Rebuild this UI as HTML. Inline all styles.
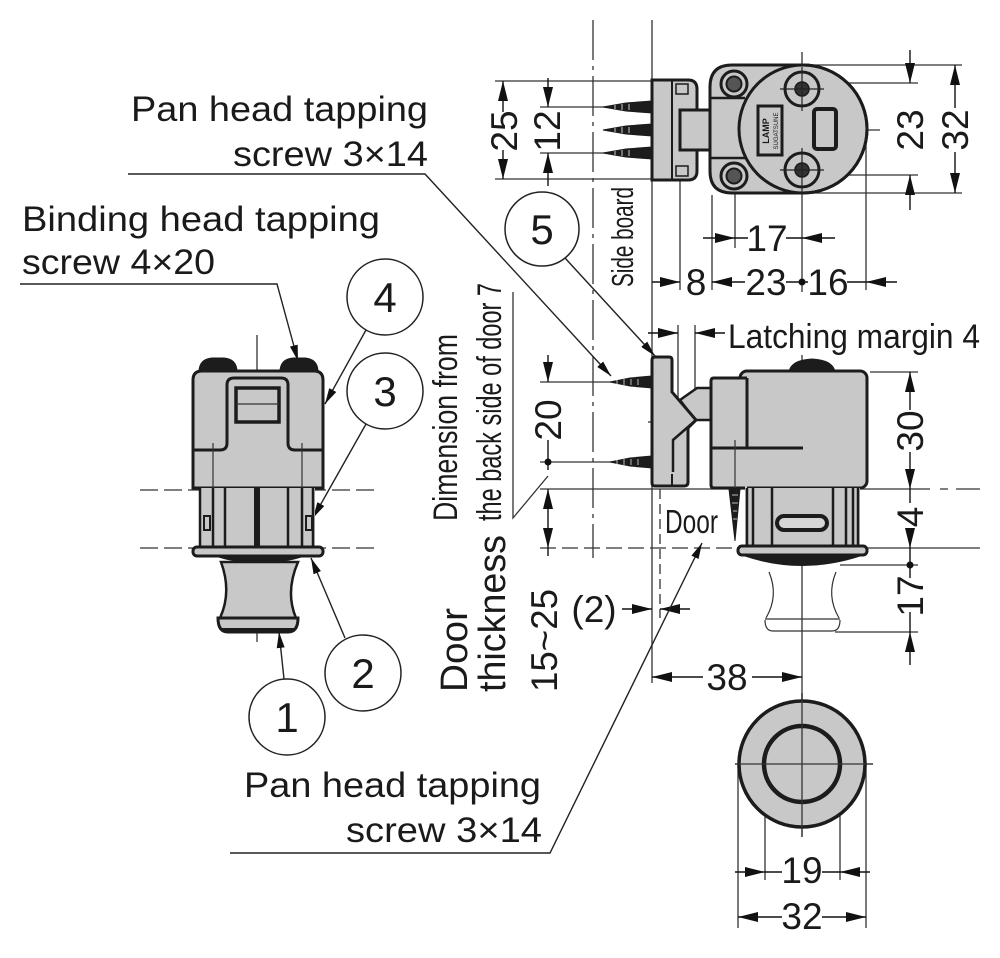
<!DOCTYPE html>
<html><head><meta charset="utf-8">
<style>
html,body{margin:0;padding:0;background:#fff;}
svg{display:block;}
text{font-family:"Liberation Sans",sans-serif;fill:#1a1a1a;}
</style></head><body>
<svg width="1000" height="958" viewBox="0 0 1000 958" xmlns="http://www.w3.org/2000/svg">
<defs>
<marker id="a" viewBox="0 0 20 10" refX="20" refY="5" markerWidth="20" markerHeight="10" orient="auto" markerUnits="userSpaceOnUse"><path d="M0,0L20,5L0,10z" fill="#111"/></marker>
<marker id="b" viewBox="0 0 16 8" refX="16" refY="4" markerWidth="16" markerHeight="8" orient="auto" markerUnits="userSpaceOnUse"><path d="M0,0L16,4L0,8z" fill="#111"/></marker>
</defs>

<!-- ============ THIN CONSTRUCTION LINES ============ -->
<g stroke="#333" stroke-width="1.3" fill="none">
  <path d="M593,20 V558" stroke-dasharray="40 6 4 6"/>
  <path d="M652,20 V683"/>
  <path d="M660,489 V618" stroke-dasharray="10 5"/>
  <path d="M495,81 H655 M495,179 H655 M540,107 H612 M540,153 H612"/>
  <path d="M680,150 V290 M712,195 V290 M866,128 V290 M802,52 V292 M735,175 V248"/>
  <path d="M742,83 H918 M742,175 H918 M812,65 H962 M812,193 H962"/>
  <path d="M698,130 H880"/>
  <path d="M678,325 V400 M695,325 V390"/>
  <path d="M540,382 H612 M540,462 H612"/>
  <path d="M540,489 H930 M940,489 H948 M956,489 H980"/>
  <path d="M540,548 H740" stroke-dasharray="16 6"/>
  <path d="M740,548 H980"/>
  <path d="M870,372 H918 M840,565 H918 M835,632 H918"/>
  <path d="M802,355 V700"/>
  <path d="M648,422 H695"/>
  <path d="M140,490 H378 M140,548 H378" stroke-dasharray="18 6"/>
  <path d="M257,335 V642"/>
  <path d="M513,292 V518 L548,476"/>
  <path d="M735,764 H873 M802,693 V837"/>
  <path d="M738,764 V928 M765,764 V880 M840,764 V880 M866,764 V928"/>
</g>

<!-- ============ DIMENSION LINES ============ -->
<g stroke="#111" stroke-width="1.4" fill="none">
  <path d="M503,112 V81" marker-end="url(#a)"/>
  <path d="M503,150 V179" marker-end="url(#a)"/>
  <path d="M548,78 V107" marker-end="url(#a)"/>
  <path d="M548,186 V153" marker-end="url(#a)"/>
  <path d="M910,50 V83" marker-end="url(#a)"/>
  <path d="M910,210 V175" marker-end="url(#a)"/>
  <path d="M955,108 V65" marker-end="url(#a)"/>
  <path d="M955,152 V193" marker-end="url(#a)"/>
  <path d="M703,238 H735" marker-end="url(#a)"/>
  <path d="M735,238 H748 M786,238 H802"/>
  <path d="M835,238 H802" marker-end="url(#a)"/>
  <path d="M652,282 H680" marker-end="url(#a)"/>
  <path d="M745,282 H712" marker-end="url(#a)"/>
  <path d="M786,282 H808 M847,282 H866"/>
  <path d="M897,282 H866" marker-end="url(#a)"/>
  <path d="M648,333 H678" marker-end="url(#a)"/>
  <path d="M725,333 H695" marker-end="url(#a)"/>
  <path d="M548,355 V382" marker-end="url(#a)"/>
  <path d="M548,440 V470"/>
  <path d="M548,518 V489" marker-end="url(#a)"/>
  <path d="M548,518 V548" marker-end="url(#a)"/>
  <path d="M548,548 V556"/>
  <path d="M910,410 V372" marker-end="url(#a)"/>
  <path d="M910,452 V489" marker-end="url(#a)"/>
  <path d="M910,489 V503"/>
  <path d="M910,530 V548" marker-end="url(#a)"/>
  <path d="M910,548 V578"/>
  <path d="M910,665 V632" marker-end="url(#a)"/>
  <path d="M910,612 V632"/>
  <path d="M622,609 H652" marker-end="url(#a)"/>
  <path d="M690,609 H660" marker-end="url(#a)"/>
  <path d="M703,677 H652" marker-end="url(#a)"/>
  <path d="M752,677 H802" marker-end="url(#a)"/>
  <path d="M735,872 H765" marker-end="url(#a)"/>
  <path d="M765,872 H782 M822,872 H840"/>
  <path d="M870,872 H840" marker-end="url(#a)"/>
  <path d="M782,917 H738" marker-end="url(#a)"/>
  <path d="M822,917 H866" marker-end="url(#a)"/>
</g>
<g fill="#111">
  <circle cx="802" cy="282" r="3.5"/>
  <circle cx="548" cy="462" r="3.5"/>
  <circle cx="910" cy="565" r="3.5"/>
</g>

<!-- ============ LEADERS ============ -->
<g stroke="#222" stroke-width="1.4" fill="none">
  <path d="M128,174 H425 L611,376" marker-end="url(#b)"/>
  <path d="M565,258 L655,356" marker-end="url(#b)"/>
  <path d="M20,284 H277 L298,361" marker-end="url(#b)"/>
  <path d="M366,330 L325,404" marker-end="url(#b)"/>
  <path d="M366,424 L313,518" marker-end="url(#b)"/>
  <path d="M345,638 L311,558" marker-end="url(#b)"/>
  <path d="M284,679 L279,632" marker-end="url(#b)"/>
  <path d="M230,853 H550 L702,543" marker-end="url(#b)"/>
</g>

<g fill="#fff" stroke="#222" stroke-width="1.5">
  <circle cx="542" cy="229" r="37"/>
  <circle cx="385" cy="297" r="38"/>
  <circle cx="385" cy="391" r="38"/>
  <circle cx="363" cy="673" r="38"/>
  <circle cx="287" cy="717" r="38"/>
</g>
<g font-size="42" text-anchor="middle">
  <text x="542" y="244">5</text>
  <text x="385" y="312">4</text>
  <text x="385" y="406">3</text>
  <text x="363" y="688">2</text>
  <text x="287" y="732">1</text>
</g>

<!-- ============ TOP VIEW PART ============ -->
<g stroke="#1c1c1c" stroke-width="3" fill="#c8c8c8">
  <path d="M652,101 L626,103 L603,107 L626,111 L652,113 Z" fill="#1c1c1c" stroke-width="1"/>
  <path d="M652,124 L626,126 L603,130 L626,134 L652,136 Z" fill="#1c1c1c" stroke-width="1"/>
  <path d="M652,147 L626,149 L603,153 L626,157 L652,159 Z" fill="#1c1c1c" stroke-width="1"/>
  <path d="M652,80 H688 Q697,80 697,89 V171 Q697,180 688,180 H652 Z"/>
  <path d="M672,80 V180" fill="none" stroke-width="2"/>
  <path d="M676,84 H688 V94 H676 Z M676,166 H688 V176 H676 Z" fill="none" stroke-width="1.5"/>
  <rect x="680" y="110" width="32" height="40"/>
  <path d="M732,65 H803 A64,64 0 0 1 803,193 H732 Q710,193 710,171 V87 Q710,65 732,65 Z"/>
  <circle cx="803" cy="129" r="64" fill="none"/>
  <path d="M711,98 H745 M711,158 H745" fill="none" stroke-width="2.5"/>
  <!-- small screws -->
  <circle cx="734" cy="84" r="13" stroke-width="3"/>
  <circle cx="734" cy="84" r="7.5" fill="#555" stroke-width="2"/>
  <circle cx="734" cy="176" r="13" stroke-width="3"/>
  <circle cx="734" cy="176" r="7.5" fill="#555" stroke-width="2"/>
  <!-- big screws -->
  <circle cx="802" cy="89" r="17" stroke-width="3"/>
  <circle cx="802" cy="89" r="7" fill="#333" stroke-width="1.5"/>
  <circle cx="802" cy="170" r="17" stroke-width="3"/>
  <circle cx="802" cy="170" r="7" fill="#333" stroke-width="1.5"/>
  <rect x="758" y="106" width="24" height="49" stroke-width="3"/>
  <rect x="814" y="109" width="22" height="40" rx="3" stroke-width="4"/>
</g>
<g stroke="#222" stroke-width="1.2">
  <path d="M780,89 H824 M780,170 H824 M802,67 V111 M802,148 V192"/>
</g>
<g stroke="#ccc" stroke-width="1">
  <path d="M615,105 v4 M622,104 v6 M629,104 v6 M615,128 v4 M622,127 v6 M629,127 v6 M615,151 v4 M622,150 v6 M629,150 v6"/>
</g>
<text transform="translate(769,131) rotate(-90)" font-size="9" text-anchor="middle" font-weight="bold">LAMP</text>
<text transform="translate(778,131) rotate(-90)" font-size="6" text-anchor="middle">SUGATSUNE</text>

<!-- ============ RIGHT SIDE VIEW ============ -->
<g stroke="#1c1c1c" stroke-width="3" fill="#c8c8c8">
  <path d="M652,376 L630,378 L610,382 L630,386 L652,388 Z" fill="#1c1c1c" stroke-width="1"/>
  <path d="M652,456 L630,458 L610,462 L630,466 L652,468 Z" fill="#1c1c1c" stroke-width="1"/>
  <path d="M680,400 L697,388 H712 V420 H695 Z" stroke-width="2.5"/>
  <path d="M652,360 Q652,357 655,357 H669 Q672,357 672,360 V392 L696,420 L688,428 V482 Q688,486 684,486 H655 Q652,486 652,483 Z"/>
  <path d="M696,420 L673,440 V472" fill="none" stroke-width="2.5"/>
  <path d="M672,474 V486" fill="none" stroke-width="2"/>
  <path d="M790,372 Q792,361 812,360 Q832,361 834,372 Z" fill="#1c1c1c"/>
  <rect x="740" y="371" width="127" height="117" rx="7"/>
  <path d="M714,378 H747 V488 H714 Q711,488 711,485 V381 Q711,378 714,378 Z" stroke="none"/>
  <path d="M747,378 H714 Q711,378 711,381 V485 Q711,488 714,488 H745" fill="none"/>
  <path d="M747,378 V448 M711,448 H803" fill="none"/>
  <rect x="745" y="488" width="115" height="60" stroke="none"/>
  <path d="M747,488 V548 M753,488 V548 M772,488 V548 M833,488 V548 M846,488 V548 M853,488 V548 M858,488 V548" fill="none" stroke-width="2.5"/>
  <rect x="777" y="516" width="50" height="14" rx="7" fill="#d6d6d6" stroke-width="4"/>
  <rect x="738" y="546" width="129" height="9" rx="4"/>
  <path d="M745,555 Q802,574 860,555 Z" fill="#1c1c1c"/>
  <path d="M729,489 H740 L735,541 Z" fill="#1c1c1c" stroke-width="1"/>
</g>
<g stroke="#333" stroke-width="1.2" fill="none">
  <path d="M735,440 V488"/>
  <path d="M769,572 Q779,596 766,618 M836,572 Q826,596 839,618 M765,619 H840 M765,620 Q765,631 773,631 H832 Q840,631 840,620"/>
</g>
<g stroke="#bbb" stroke-width="1">
  <path d="M617,380 v4 M624,379 v6 M631,379 v6 M638,379 v6 M617,460 v4 M624,459 v6 M631,459 v6 M638,459 v6 M732,495 h6 M732,503 h6 M733,511 h4 M733,519 h4"/>
</g>

<!-- ============ LEFT VIEW ============ -->
<g stroke="#1c1c1c" stroke-width="3" fill="#c8c8c8">
  <path d="M200,372 Q200,360 212,359 H224 Q236,360 236,372 Z" fill="#1c1c1c"/>
  <path d="M281,372 Q281,360 293,359 H305 Q317,360 317,372 Z" fill="#1c1c1c"/>
  <path d="M193,380 Q193,371 202,371 H314 Q323,371 323,380 V488 H193 Z"/>
  <path d="M193,450 H220 Q227,450 227,443 V385 Q227,378 234,378 H281 Q288,378 288,385 V443 Q288,450 295,450 H323" fill="none"/>
  <rect x="236" y="388" width="43" height="34" stroke-width="3.5"/>
  <rect x="199" y="488" width="116" height="60" stroke="none"/>
  <path d="M200,488 V548 M213,488 V548 M225,488 V548 M288,488 V548 M302,488 V548 M313,488 V548" fill="none" stroke-width="2.5"/>
  <rect x="254" y="488" width="6" height="60" fill="#1c1c1c" stroke="none"/>
  <rect x="204" y="516" width="6" height="14" stroke-width="2"/>
  <rect x="306" y="516" width="6" height="14" stroke-width="2"/>
  <rect x="193" y="547" width="130" height="9" rx="4"/>
  <path d="M215,556 Q260,570 305,556 Z" fill="#1c1c1c" stroke-width="1"/>
  <path d="M221,562 H298 Q285,592 296,618 H220 Q232,592 221,562 Z" stroke-width="2.5"/>
  <path d="M218,618 H298 Q298,632 288,632 H228 Q218,632 218,618 Z"/>
  <path d="M222,630 H294" fill="none" stroke-width="4"/>
</g>
<g stroke="#333" stroke-width="1.2" fill="none">
  <path d="M213,443 V488 M302,443 V488 M236,404 H279"/>
</g>

<!-- ============ BOTTOM CIRCLE VIEW ============ -->
<circle cx="802" cy="764" r="63" fill="#c8c8c8" stroke="#1c1c1c" stroke-width="3.5"/>
<circle cx="802" cy="764" r="38" fill="#c8c8c8" stroke="#1c1c1c" stroke-width="4.5"/>
<path d="M735,764 H873 M802,693 V837" stroke="#333" stroke-width="1.3"/>

<!-- ============ TEXT ============ -->
<g font-size="35">
  <text x="131" y="121" textLength="297" lengthAdjust="spacingAndGlyphs">Pan head tapping</text>
  <text x="233" y="166" textLength="195" lengthAdjust="spacingAndGlyphs">screw 3×14</text>
  <text x="22" y="231" textLength="358" lengthAdjust="spacingAndGlyphs">Binding head tapping</text>
  <text x="22" y="274" textLength="193" lengthAdjust="spacingAndGlyphs">screw 4×20</text>
  <text x="244" y="797" textLength="297" lengthAdjust="spacingAndGlyphs">Pan head tapping</text>
  <text x="346" y="842" textLength="196" lengthAdjust="spacingAndGlyphs">screw 3×14</text>
</g>
<text x="728" y="348" font-size="34" textLength="252" lengthAdjust="spacingAndGlyphs">Latching margin 4</text>
<text x="665" y="533" font-size="33" textLength="53" lengthAdjust="spacingAndGlyphs">Door</text>
<text transform="translate(633,287) rotate(-90)" font-size="31" textLength="100" lengthAdjust="spacingAndGlyphs">Side board</text>
<text transform="translate(457,521) rotate(-90)" font-size="34" textLength="187" lengthAdjust="spacingAndGlyphs">Dimension from</text>
<text transform="translate(501,521) rotate(-90)" font-size="34" textLength="238" lengthAdjust="spacingAndGlyphs">the back side of door 7</text>
<text transform="translate(467,692) rotate(-90)" font-size="38" textLength="84" lengthAdjust="spacingAndGlyphs">Door</text>
<text transform="translate(505,692) rotate(-90)" font-size="38" textLength="157" lengthAdjust="spacingAndGlyphs">thickness</text>
<text transform="translate(557,692) rotate(-90)" font-size="37" textLength="103" lengthAdjust="spacingAndGlyphs">15~25</text>

<g font-size="37" text-anchor="middle">
  <text transform="translate(517,131) rotate(-90)">25</text>
  <text transform="translate(560,131) rotate(-90)">12</text>
  <text transform="translate(923,130) rotate(-90)">23</text>
  <text transform="translate(968,130) rotate(-90)">32</text>
  <text x="767" y="251">17</text>
  <text x="696" y="295">8</text>
  <text x="766" y="295">23</text>
  <text x="828" y="295">16</text>
  <text transform="translate(561,420) rotate(-90)">20</text>
  <text transform="translate(923,431) rotate(-90)">30</text>
  <text transform="translate(923,517) rotate(-90)">4</text>
  <text transform="translate(923,596) rotate(-90)">17</text>
  <text x="594" y="622">(2)</text>
  <text x="727" y="690">38</text>
  <text x="802" y="883">19</text>
  <text x="802" y="929">32</text>
</g>
</svg>
</body></html>
